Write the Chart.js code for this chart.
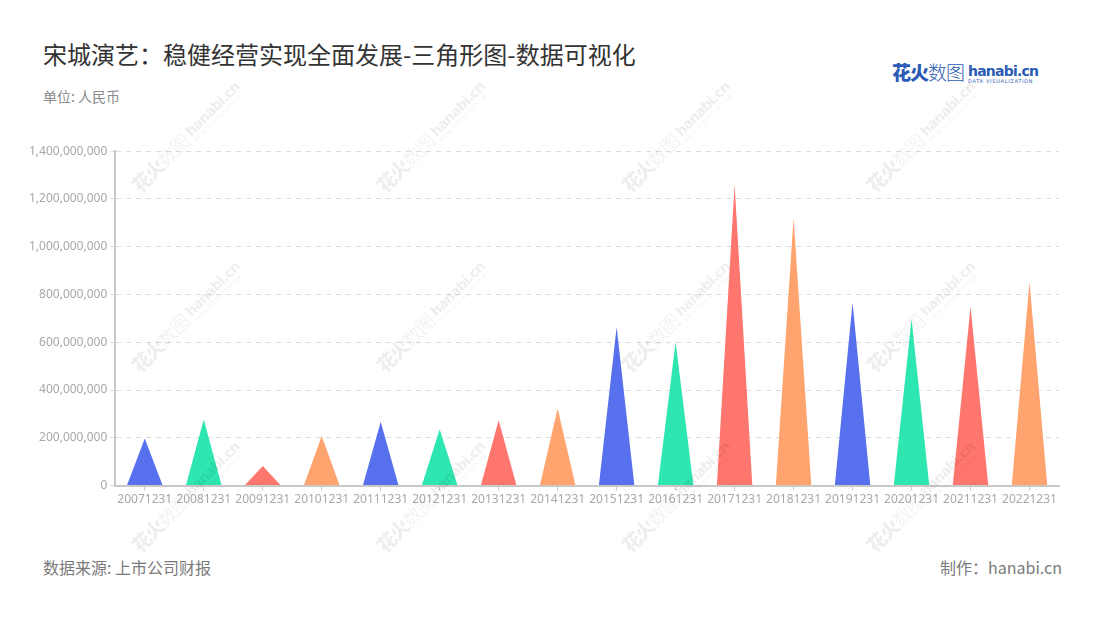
<!DOCTYPE html>
<html>
<head>
<meta charset="utf-8">
<script src="https://cdn.jsdelivr.net/npm/chart.js@4"></script>
<style>
  body { margin: 0; width: 1100px; height: 620px; background: #fff; font-family: "Noto Sans CJK SC", "Noto Sans", sans-serif; position: relative; overflow: hidden; }
  .title { position: absolute; left: 43px; top: 36px; font-size: 24px; color: #333; }
  .unit { position: absolute; left: 43px; top: 86px; font-size: 14px; color: #8a8a8a; }
  .src { position: absolute; left: 43px; top: 555px; font-size: 16px; color: #7a7a7a; }
  .made { position: absolute; right: 38px; top: 555px; font-size: 16px; color: #7a7a7a; }
  .logo { position: absolute; white-space: nowrap; }
  .logo .cn { font-size: 19px; color: #2b5bb5; letter-spacing: -1px; }
  .logo .cn b { font-weight: 900; }
  .logo .cn span { font-weight: 300; }
  .logo .en { display: inline-block; vertical-align: top; margin-left: 4px; line-height: 1; margin-top: 3px; }
  .logo .en b { font-family: "DejaVu Sans", sans-serif; font-size: 14px; color: #2b5bb5; letter-spacing: -0.8px; }
  .logo .en i { display: block; font-style: normal; font-size: 5px; color: #2b5bb5; letter-spacing: 0.7px; font-family: "DejaVu Sans", sans-serif; margin-top: 1px; }
  .wm { transform: translate(-50%, -50%) rotate(-45deg); opacity: 0.065; z-index: 5; }
  .wm .cn, .wm .en b, .wm .en i { color: #000; }
  #wrap { position: absolute; left: 26px; top: 141px; width: 1041px; height: 368px; }
</style>
</head>
<body>
<div class="title">宋城演艺：稳健经营实现全面发展-三角形图-数据可视化</div>
<div class="unit">单位: 人民币</div>
<div class="logo" style="left:892px; top:58px;"><span class="cn"><b>花火</b><span>数图</span></span><span class="en"><b>hanabi.cn</b><i>DATA VISUALIZATION</i></span></div>
<div id="wrap"><canvas id="myChart"></canvas></div>
<div class="src">数据来源: 上市公司财报</div>
<div class="made">制作：hanabi.cn</div>
<script>
var categories = ["20071231", "20081231", "20091231", "20101231", "20111231", "20121231", "20131231", "20141231",
    "20151231", "20161231", "20171231", "20181231", "20191231", "20201231", "20211231", "20221231"];
var values = [197000000, 277000000, 82000000, 208000000, 267000000, 236000000, 274000000, 323000000,
    664000000, 601000000, 1260000000, 1120000000, 767000000, 696000000, 750000000, 852000000];
var palette = ["#5770ee", "#2ee6b0", "#ff766f", "#ffa36f"];
var yTicks = [0, 200000000, 400000000, 600000000, 800000000, 1000000000, 1200000000, 1400000000];

// watermark copies of the logo
var logoHtml = document.querySelector('.logo').innerHTML;
for (var j = 0; j < 3; j++) {
    for (var k = 0; k < 4; k++) {
        var d = document.createElement('div');
        d.className = 'logo wm';
        d.style.left = (186 + 245 * k) + 'px';
        d.style.top = (136 + 180 * j) + 'px';
        d.innerHTML = logoHtml;
        document.body.appendChild(d);
    }
}

// bars are invisible, triangles are drawn on the bar elements
var triangles = {
    id: 'triangles',
    afterDatasetsDraw: function(chart) {
        var c = chart.ctx;
        var meta = chart.getDatasetMeta(0);
        meta.data.forEach(function(bar, i) {
            var half = bar.width / 2;
            c.save();
            c.fillStyle = palette[i % palette.length];
            c.beginPath();
            c.moveTo(bar.x - half, bar.base);
            c.lineTo(bar.x, bar.y);
            c.lineTo(bar.x + half, bar.base);
            c.closePath();
            c.fill();
            c.restore();
        });
    }
};

var ctx = document.getElementById("myChart");
var myChart = new Chart(ctx, {
    type: 'bar',
    data: {
        labels: categories,
        datasets: [{
            data: values,
            backgroundColor: 'rgba(0,0,0,0)',
            barPercentage: 0.6,
            categoryPercentage: 1
        }]
    },
    options: {
        responsive: true,
        maintainAspectRatio: false,
        animation: false,
        layout: { padding: { top: 8, right: 8 } },
        plugins: { legend: { display: false }, tooltip: { enabled: false } },
        scales: {
            x: {
                grid: { drawOnChartArea: false, drawTicks: true, tickLength: 5, offset: false, color: '#c8c8c8' },
                border: { color: '#c8c8c8', width: 2 },
                ticks: { color: '#a8a8a8', font: { size: 12, family: "Noto Sans" }, maxRotation: 0, autoSkip: false, padding: 2 }
            },
            y: {
                min: 0,
                max: 1400000000,
                afterBuildTicks: function(axis) {
                    axis.ticks = yTicks.map(function(v) { return { value: v }; });
                },
                grid: { color: '#dcdcdc', tickLength: 5 },
                border: { color: '#c8c8c8', width: 2, dash: [5, 5] },
                ticks: {
                    color: '#a8a8a8',
                    font: { size: 12, family: "Noto Sans" },
                    padding: 3,
                    callback: function(v) { return Number(v).toLocaleString('en-US'); }
                }
            }
        }
    },
    plugins: [triangles]
});
</script>
</body>
</html>
